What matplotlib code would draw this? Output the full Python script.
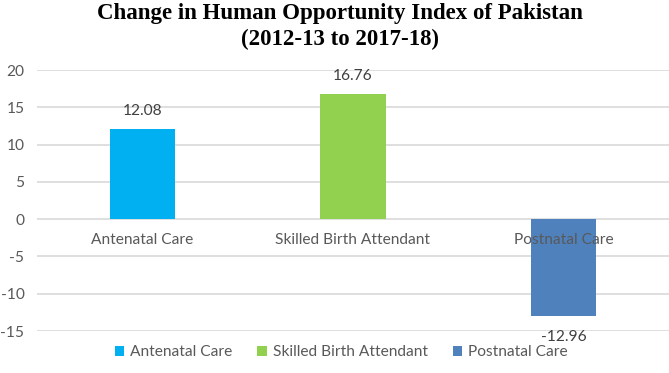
import matplotlib.pyplot as plt
import numpy as np

categories = ['Antenatal Care', 'Skilled Birth Attendant', 'Postnatal Care']
values = [12.08, 16.76, -12.96]
value_labels = ['12.08', '16.76', '-12.96']
colors = ['#00B0F0', '#92D050', '#4F81BD']
yticks = [-15, -10, -5, 0, 5, 10, 15, 20]

txt_color = '#595959'
font = 'Lato'
fs = 11.2


def main():
    fig = plt.figure(figsize=(6.69, 3.73), dpi=100)
    ax = fig.add_axes([0.0553, 0.1126, 0.9447, 0.6997])

    x = np.arange(len(categories))
    for i in range(len(categories)):
        ax.bar(x[i], values[i], width=0.31, color=colors[i], label=categories[i], zorder=3)

    ax.set_xlim(-0.5, 2.5)
    ax.set_ylim(-15, 20)
    ax.set_yticks(yticks)
    ax.set_yticklabels([str(t) for t in yticks], fontsize=fs, color=txt_color, family=font)
    ax.tick_params(axis='y', length=0, pad=9)
    ax.set_xticks([])
    ax.grid(axis='y', color='#D9D9D9', linewidth=1.2, zorder=0)
    for s in ax.spines.values():
        s.set_visible(False)

    # category names sit just under the zero line
    for i, c in enumerate(categories):
        ax.annotate(c, (x[i], 0), xytext=(0, -15), textcoords='offset points',
                    ha='center', va='center', fontsize=fs, color=txt_color, family=font, zorder=4)

    # data labels
    for i, v in enumerate(values):
        off = 13 if v >= 0 else -15
        ax.annotate(value_labels[i], (x[i], v), xytext=(0, off), textcoords='offset points',
                    ha='center', va='center', fontsize=fs, color='#404040', family=font)

    fig.suptitle('Change in Human Opportunity Index of Pakistan\n(2012-13 to 2017-18)',
                 x=0.508, y=0.993, fontsize=16.5, fontweight='bold', family='Liberation Serif',
                 linespacing=1.3)

    fig.legend(loc='center', bbox_to_anchor=(0.51, 0.055), ncol=3, frameon=False,
               prop={'family': font, 'size': fs}, labelcolor=txt_color,
               handlelength=0.6, handleheight=0.6, handletextpad=0.4, columnspacing=1.6)

    fig.savefig('out.png', dpi=100)


if __name__ == '__main__':
    main()
